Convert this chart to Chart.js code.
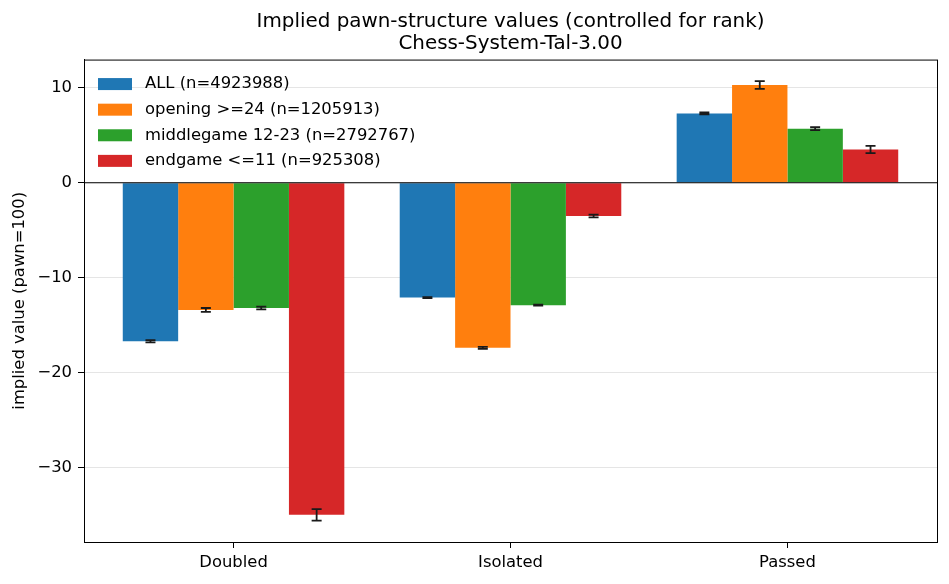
<!DOCTYPE html>
<html>
<head>
<meta charset="utf-8">
<script src="https://cdn.jsdelivr.net/npm/chart.js@4"></script>
<style>
  html, body { margin: 0; padding: 0; background: #fff; }
  #wrap { width: 949px; height: 584px; }
</style>
</head>
<body>
<div id="wrap"><canvas id="chart"></canvas></div>
<script>
// data
const categories = ["Doubled", "Isolated", "Passed"];
const seriesNames = [
  "ALL (n=4923988)",
  "opening >=24 (n=1205913)",
  "middlegame 12-23 (n=2792767)",
  "endgame <=11 (n=925308)"
];
const allValues = [-16.7, -12.1, 7.3];
const openingValues = [-13.4, -17.4, 10.3];
const middleValues = [-13.2, -12.9, 5.7];
const endgameValues = [-35.0, -3.5, 3.5];
const allErr = [0.12, 0.05, 0.1];
const openingErr = [0.2, 0.1, 0.4];
const middleErr = [0.15, 0.06, 0.15];
const endgameErr = [0.6, 0.15, 0.38];
const yTicks = [-30, -20, -10, 0, 10];

const colors = ["#1f77b4", "#ff7f0e", "#2ca02c", "#d62728"];
const FONT = "'DejaVu Sans', sans-serif";

const values = [allValues, openingValues, middleValues, endgameValues];
const errors = [allErr, openingErr, middleErr, endgameErr];

const datasets = values.map((vals, i) => ({
  label: seriesNames[i],
  data: vals.map((v, j) => ({ x: j, y: v })),
  err: errors[i],
  backgroundColor: colors[i],
  borderWidth: 0,
  categoryPercentage: 0.8,
  barPercentage: 1.0
}));

// error bars, zero line, frame and legend
const extras = {
  id: "extras",
  afterDatasetsDraw(chart) {
    const ctx = chart.ctx;
    const y = chart.scales.y;
    const area = chart.chartArea;
    ctx.save();
    // zero line
    ctx.strokeStyle = "#000";
    ctx.lineWidth = 1.2;
    ctx.beginPath();
    ctx.moveTo(area.left, y.getPixelForValue(0));
    ctx.lineTo(area.right, y.getPixelForValue(0));
    ctx.stroke();
    // error bars
    chart.data.datasets.forEach((ds, i) => {
      const meta = chart.getDatasetMeta(i);
      meta.data.forEach((bar, j) => {
        const v = ds.data[j].y, e = ds.err[j];
        const top = y.getPixelForValue(v + e), bot = y.getPixelForValue(v - e);
        ctx.strokeStyle = "#1a1a1a";
        ctx.lineWidth = 1.8;
        ctx.beginPath();
        ctx.moveTo(bar.x, top); ctx.lineTo(bar.x, bot);
        ctx.moveTo(bar.x - 5, top); ctx.lineTo(bar.x + 5, top);
        ctx.moveTo(bar.x - 5, bot); ctx.lineTo(bar.x + 5, bot);
        ctx.stroke();
      });
    });
    // frame
    ctx.strokeStyle = "#000";
    ctx.lineWidth = 1;
    ctx.strokeRect(area.left + 0.5, area.top + 0.5, area.right - area.left, area.bottom - area.top);
    // legend
    ctx.font = "16.4px " + FONT;
    ctx.textBaseline = "middle";
    ctx.textAlign = "left";
    chart.data.datasets.forEach((ds, i) => {
      const cy = area.top + 24.5 + i * 25.6;
      ctx.fillStyle = ds.backgroundColor;
      ctx.fillRect(area.left + 14, cy - 6, 34, 12);
      ctx.fillStyle = "#000";
      ctx.fillText(ds.label, area.left + 61, cy);
    });
    ctx.restore();
  }
};

new Chart(document.getElementById("chart"), {
  type: "bar",
  data: { datasets },
  options: {
    responsive: true,
    maintainAspectRatio: false,
    animation: false,
    layout: { padding: { left: 0, right: 12, top: 0, bottom: 0 } },
    plugins: {
      legend: { display: false },
      tooltip: { enabled: false },
      title: {
        display: true,
        fullSize: false,
        text: ["Implied pawn-structure values (controlled for rank)", "Chess-System-Tal-3.00"],
        color: "#000",
        font: { family: FONT, size: 19.9, weight: "normal", lineHeight: 1.12 },
        padding: { top: 10.5, bottom: 4.5 }
      }
    },
    scales: {
      x: {
        type: "linear",
        min: -0.54,
        max: 2.54,
        offset: false,
        grid: { display: true, drawOnChartArea: false, drawTicks: true, tickLength: 6, tickColor: "#000", offset: false },
        border: { display: true, color: "#000", width: 1 },
        afterBuildTicks: s => { s.ticks = categories.map((c, i) => ({ value: i })); },
        afterFit: s => { s.height = 42; },
        ticks: {
          color: "#000",
          padding: 5,
          maxRotation: 0,
          autoSkip: false,
          font: { family: FONT, size: 16.4 },
          callback: v => categories[v]
        }
      },
      y: {
        min: -37.86,
        max: 12.98,
        grid: {
          color: "#e5e5e5",
          tickColor: "#000",
          tickLength: 6,
          lineWidth: 1
        },
        border: { display: true, color: "#000", width: 1 },
        afterBuildTicks: s => { s.ticks = yTicks.map(v => ({ value: v })); },
        afterFit: s => { s.width = 84; },
        ticks: {
          color: "#000",
          padding: 6,
          font: { family: FONT, size: 16.4 },
          callback: v => (v < 0 ? "\u2212" + Math.abs(v) : String(v))
        },
        title: {
          display: true,
          text: "implied value (pawn=100)",
          color: "#000",
          font: { family: FONT, size: 16.4 },
          padding: { top: 10, bottom: 0 }
        }
      }
    }
  },
  plugins: [extras]
});
</script>
</body>
</html>
